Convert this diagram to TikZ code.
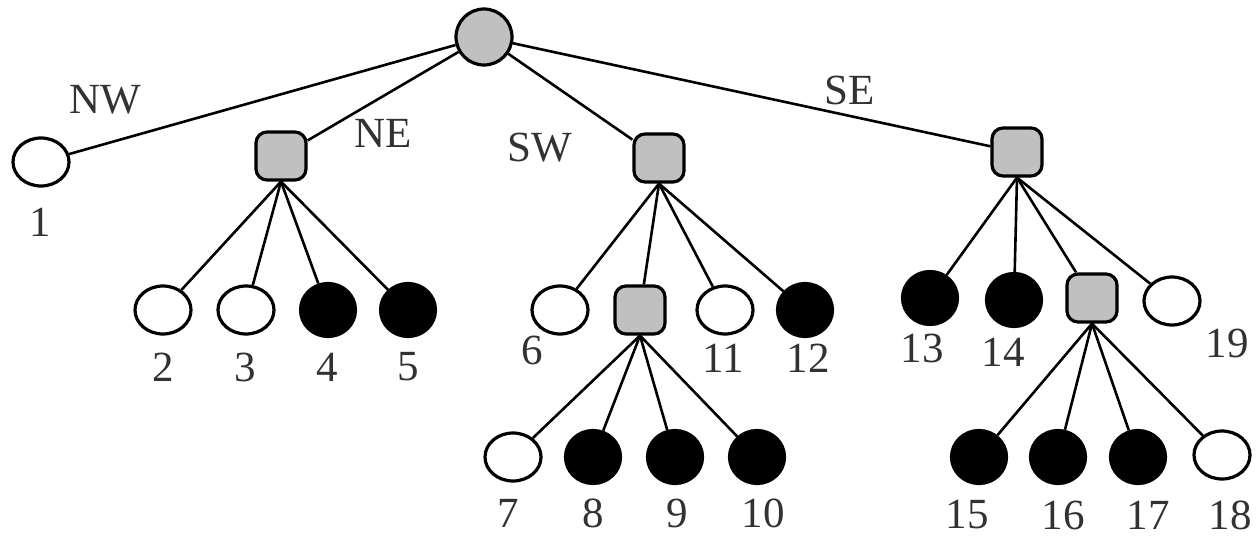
\documentclass[tikz,border=0pt]{standalone}
\usepackage{fontspec}
\setmainfont{Liberation Serif}
\usetikzlibrary{shapes.geometric}
\definecolor{nodegray}{RGB}{192,192,192}
\definecolor{labelgray}{RGB}{50,50,50}
\tikzset{
  tnode/.style={draw=black, line width=3.2pt, inner sep=0pt},
  openleaf/.style={tnode, ellipse, fill=white, minimum width=56pt, minimum height=48pt},
  fullleaf/.style={tnode, ellipse, fill=black, minimum width=55pt, minimum height=53pt},
  inner/.style={tnode, rectangle, rounded corners=11pt, fill=nodegray, minimum width=50pt, minimum height=48pt},
  rootnode/.style={tnode, circle, fill=nodegray, minimum size=56pt},
  edge/.style={line width=2.6pt, black},
  lbl/.style={inner sep=0pt, text=labelgray, font=\fontsize{43}{43}\selectfont},
}
\begin{document}
\begin{tikzpicture}[x=1pt,y=-1pt]
\useasboundingbox (0,0) rectangle (1257,540);
% edges drawn first so nodes sit on top
\coordinate (croot) at (484,37);
% nodes
\node[rootnode] (root) at (484,37) {};
\node[openleaf] (n1) at (41,162) {};
\node[inner] (ne) at (281,156) {};
\node[inner] (sw) at (659,158) {};
\node[inner] (se) at (1017,152) {};
% NE children
\node[openleaf] (n2) at (163,310) {};
\node[openleaf] (n3) at (246,310) {};
\node[fullleaf] (n4) at (328,310) {};
\node[fullleaf] (n5) at (408,310) {};
% SW children
\node[openleaf] (n6) at (560,310) {};
\node[inner] (swc) at (640,310) {};
\node[openleaf] (n11) at (725,310) {};
\node[fullleaf] (n12) at (805,310) {};
% SW inner children
\node[openleaf] (n7) at (513,457) {};
\node[fullleaf] (n8) at (593,457) {};
\node[fullleaf] (n9) at (675,457) {};
\node[fullleaf] (n10) at (757,457) {};
% SE children
\node[fullleaf] (n13) at (930,298) {};
\node[fullleaf] (n14) at (1014,300) {};
\node[inner] (sec) at (1092,298) {};
\node[openleaf] (n19) at (1172,301) {};
% SE inner children
\node[fullleaf] (n15) at (979,457) {};
\node[fullleaf] (n16) at (1058,457) {};
\node[fullleaf] (n17) at (1138,457) {};
\node[openleaf] (n18) at (1222,455) {};
% edges
\draw[edge] (root) -- (n1);
\draw[edge] (root) -- (ne);
\draw[edge] (root) -- (sw);
\draw[edge] (root) -- (se);
\foreach \c in {n2,n3,n4,n5} \draw[edge] (ne.south) -- (\c);
\foreach \c in {n6,swc,n11,n12} \draw[edge] (sw.south) -- (\c);
\foreach \c in {n7,n8,n9,n10} \draw[edge] (swc.south) -- (\c);
\foreach \c in {n13,n14,sec,n19} \draw[edge] (se.south) -- (\c);
\foreach \c in {n15,n16,n17,n18} \draw[edge] (sec.south) -- (\c);
% labels
\node[lbl] (l1) at (40,222) {1};
\node[lbl] (l2) at (163,367) {2};
\node[lbl] (l3) at (245,367) {3};
\node[lbl] (l4) at (327,367) {4};
\node[lbl] (l5) at (408,367) {5};
\node[lbl] (l6) at (532,350) {6};
\node[lbl] (l11) at (723,358) {11};
\node[lbl] (l12) at (808,358) {12};
\node[lbl] (l13) at (922,348) {13};
\node[lbl] (l14) at (1003,352) {14};
\node[lbl] (l19) at (1227,343) {19};
\node[lbl] (l7) at (508,513) {7};
\node[lbl] (l8) at (593,513) {8};
\node[lbl] (l9) at (677,513) {9};
\node[lbl] (l10) at (763,513) {10};
\node[lbl] (l15) at (967,515) {15};
\node[lbl] (l16) at (1063,515) {16};
\node[lbl] (l17) at (1148,515) {17};
\node[lbl] (l18) at (1230,515) {18};
\node[lbl] (lnw) at (105,100) {NW};
\node[lbl] (lne) at (383,133) {NE};
\node[lbl] (lsw) at (540,148) {SW};
\node[lbl] (lse) at (850,90) {SE};
\end{tikzpicture}
\end{document}
